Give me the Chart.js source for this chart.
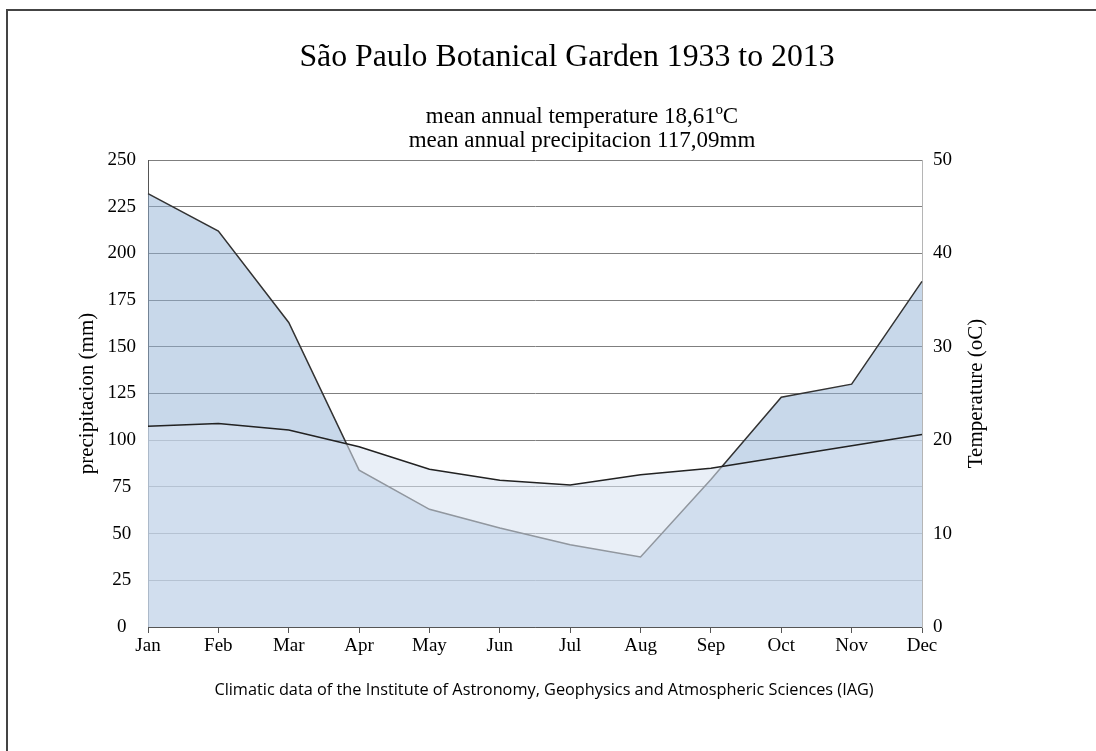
<!DOCTYPE html>
<html>
<head>
<meta charset="utf-8">
<title>São Paulo Botanical Garden 1933 to 2013</title>
<script src="https://cdn.jsdelivr.net/npm/chart.js@4"></script>
<style>
  html, body { margin: 0; padding: 0; background: #fff; }
  #wrap { position: relative; width: 1096px; height: 751px; }
</style>
</head>
<body>
<div id="wrap"><canvas id="chart" width="1096" height="751"></canvas></div>
<script>
const months = ["Jan", "Feb", "Mar", "Apr", "May", "Jun", "Jul", "Aug", "Sep", "Oct", "Nov", "Dec"];
const precipitation = [232, 212, 163, 84, 63, 53, 44, 37.5, 79, 123, 130, 185];
const temperature = [21.5, 21.8, 21.1, 19.3, 16.9, 15.7, 15.2, 16.3, 17.0, 18.2, 19.4, 20.6];
const precipTicks = [0, 25, 50, 75, 100, 125, 150, 175, 200, 225, 250];
const tempTicks = [0, 10, 20, 30, 40, 50];

const serif = "'Liberation Serif', 'Times New Roman', serif";

// titles, footer, right axis title and the frame
const textPlugin = {
    id: 'texts',
    afterDraw(chart) {
        const c = chart.ctx;
        const area = chart.chartArea;
        c.save();
        c.fillStyle = '#000';
        c.textAlign = 'center';
        c.textBaseline = 'middle';
        c.font = '31.8px ' + serif;
        c.fillText('São Paulo Botanical Garden 1933 to 2013', 567, 58);
        c.font = '23px ' + serif;
        c.fillText('mean annual temperature 18,61ºC', 582, 117);
        c.fillText('mean annual precipitacion 117,09mm', 582, 141);
        c.font = "16.3px 'Open Sans', sans-serif";
        c.fillText('Climatic data of the Institute of Astronomy, Geophysics and Atmospheric Sciences (IAG)', 544, 690);

        c.translate(976, (area.top + area.bottom) / 2);
        c.rotate(-Math.PI / 2);
        c.font = '21px ' + serif;
        c.fillText('Temperature (oC)', 0, 0);
        c.restore();

        c.save();
        c.strokeStyle = '#444';
        c.lineWidth = 2;
        c.beginPath();
        c.moveTo(7, 760);
        c.lineTo(7, 10);
        c.lineTo(1100, 10);
        c.stroke();
        c.restore();
    }
};

const ctx = document.getElementById('chart').getContext('2d');

const data = {
    labels: months,
    datasets: [
        {
            label: 'Temperature',
            data: temperature,
            yAxisID: 'y2',
            borderColor: '#222',
            borderWidth: 1.5,
            backgroundColor: 'rgba(217, 226, 241, 0.57)',
            fill: 'origin',
            pointRadius: 0,
            tension: 0,
        },
        {
            label: 'Precipitation',
            data: precipitation,
            yAxisID: 'y',
            borderColor: '#333',
            borderWidth: 1.5,
            backgroundColor: 'rgba(145, 177, 213, 0.5)',
            fill: 'origin',
            pointRadius: 0,
            tension: 0,
        },
    ]
};

const options = {
    responsive: false,
    animation: false,
    layout: {
        padding: { left: 73, right: 134, top: 160, bottom: 94 }
    },
    plugins: {
        legend: { display: false },
        tooltip: { enabled: false },
        title: { display: false },
    },
    scales: {
        x: {
            offset: false,
            grid: { drawOnChartArea: false, drawTicks: true, tickLength: 6, color: '#555' },
            border: { color: '#555', width: 1 },
            ticks: { color: '#000', font: { family: serif, size: 19 }, padding: 2, maxRotation: 0, autoSkip: false },
            afterFit: (s) => { s.height = 30; },
        },
        y: {
            position: 'left',
            min: 0,
            max: 250,
            afterBuildTicks: (s) => { s.ticks = precipTicks.map(v => ({ value: v })); },
            grid: { drawTicks: false, color: '#7f7f7f', lineWidth: 1 },
            border: { color: '#555', width: 1 },
            ticks: { color: '#000', font: { family: serif, size: 19 }, padding: 12, crossAlign: 'center' },
            title: { display: true, text: 'precipitacion (mm)', color: '#000', font: { family: serif, size: 21 }, padding: 2 },
            afterFit: (s) => { s.width = 75; },
        },
        y2: {
            position: 'right',
            min: 0,
            max: 50,
            afterBuildTicks: (s) => { s.ticks = tempTicks.map(v => ({ value: v })); },
            grid: { drawOnChartArea: false, drawTicks: false },
            border: { color: '#b5b5b5', width: 1 },
            ticks: { color: '#000', font: { family: serif, size: 19 }, padding: 11 },
            afterFit: (s) => { s.width = 40; },
        },
    }
};

const climateChart = new Chart(ctx, {
    type: 'line',
    data: data,
    options: options,
    plugins: [textPlugin],
});
</script>
</body>
</html>
